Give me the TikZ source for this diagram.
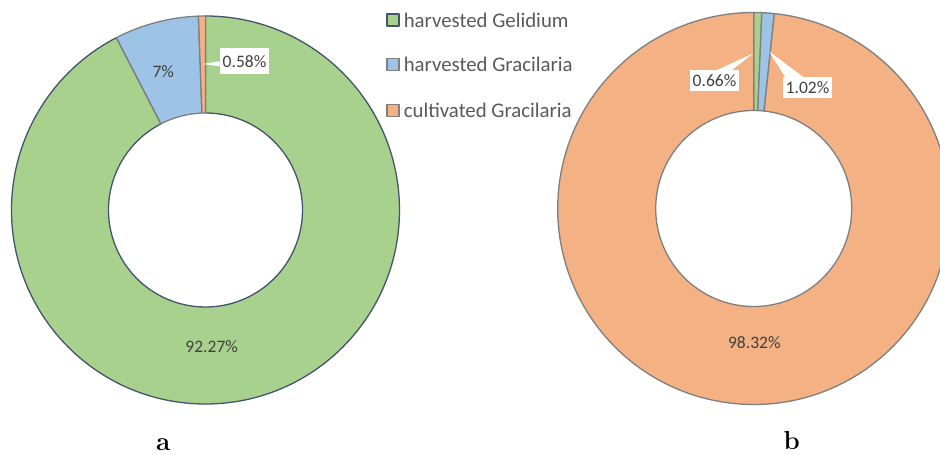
\documentclass[tikz,border=0pt]{standalone}
\usepackage{fontspec}
\newfontfamily\chartfont{Carlito}
\usetikzlibrary{calc, positioning}

\definecolor{gelgreen}{HTML}{A9D18E}
\definecolor{gracblue}{HTML}{9DC3E6}
\definecolor{farmorange}{HTML}{F4B183}
\definecolor{navyline}{HTML}{44546A}
\definecolor{greyline}{HTML}{7F7F7F}
\definecolor{labelgrey}{HTML}{404040}
\definecolor{keygrey}{HTML}{595959}

% one piece of a ring: centre, from, to, outer r, inner r, style
\newcommand{\donutslice}[6]{%
  \path[#6] ($(#1)+(#2:#4)$) arc[start angle=#2, end angle=#3, radius=#4]
    -- ($(#1)+(#3:#5)$) arc[start angle=#3, end angle=#2, radius=#5] -- cycle;}

\tikzset{
  gelidium/.style={fill=gelgreen, draw=navyline, line width=1.3pt},
  wildgrac/.style={fill=gracblue, draw=greyline, line width=1.3pt},
  farmgrac/.style={fill=farmorange, draw=greyline, line width=1.3pt},
  pctlabel/.style={font=\chartfont\fontsize{17.5}{20}\selectfont, text=labelgrey},
  calloutbox/.style={pctlabel, fill=white, inner xsep=3pt, inner ysep=0pt, minimum height=21pt},
  keybox/.style={draw, minimum size=12pt, inner sep=0pt, line width=1.2pt},
  keytext/.style={font=\chartfont\fontsize{20.8}{24}\selectfont, text=keygrey, inner sep=0pt},
  panel/.style={font=\bfseries\fontsize{26}{30}\selectfont, anchor=base}
}

\begin{document}
\begin{tikzpicture}[x=1pt, y=1pt, line join=round]

\useasboundingbox (0,0) rectangle (940,455);
\clip (0,0) rectangle (940,455);

\coordinate (ctrA) at (205.5,245);
\coordinate (ctrB) at (753.7,246.5);

% Ring a
\donutslice{ctrA}{90}{-242.67}{194}{97}{gelidium}
\donutslice{ctrA}{117.33}{92.09}{194}{97}{wildgrac}
\donutslice{ctrA}{92.09}{90}{194}{97}{farmgrac}

% Ring b
\donutslice{ctrB}{90}{87.62}{196}{98}{gelidium, draw=greyline}
\donutslice{ctrB}{87.62}{83.95}{196}{98}{wildgrac}
\donutslice{ctrB}{83.95}{-270}{196}{98}{farmgrac}

% Data labels
\node[pctlabel] (pctWild) at (163.3,383.3) {7\%};
\node[pctlabel] (pctGel) at (211.7,108.3) {92.27\%};
\node[pctlabel] (pctFarm) at (754.3,112.3) {98.32\%};

\node[calloutbox, minimum height=26pt] (boxFarmA) at (244.5,393.7) {0.58\%};
\node[calloutbox] (boxGelB) at (714.5,374) {0.66\%};
\node[calloutbox] (boxWildB) at (807.5,367.5) {1.02\%};

\coordinate (tipFarmA) at (203.3,391);
\coordinate (tipGelB) at (753.3,401.7);
\coordinate (tipWildB) at (769.3,403.3);

% Callout pointers
\fill[white] ([yshift=0pt]boxFarmA.west) -- (tipFarmA) -- ([yshift=-5pt]boxFarmA.west) -- cycle;
\fill[white] ([xshift=2pt]boxGelB.north) -- (tipGelB) -- ([xshift=17pt]boxGelB.north) -- cycle;
\fill[white] ([xshift=-22.5pt]boxWildB.north) -- (tipWildB) -- ([xshift=-4.5pt]boxWildB.north) -- cycle;

% Legend
\node[keybox, fill=gelgreen, draw=navyline] (keyGel) at (393,435) {};
\node[keybox, fill=gracblue, draw=greyline, below=31.5pt of keyGel] (keyWild) {};
\node[keybox, fill=farmorange, draw=greyline, below=32.8pt of keyWild] (keyFarm) {};

\node[keytext, right=4pt of keyGel] (txtGel) {harvested Gelidium};
\node[keytext, right=4pt of keyWild] (txtWild) {harvested Gracilaria};
\node[keytext, right=4pt of keyFarm] (txtFarm) {cultivated Gracilaria};

% Panel letters
\node[panel] (capA) at (163.3,4.5) {a};
\node[panel] (capB) at (791.7,5) {b};

\end{tikzpicture}
\end{document}
